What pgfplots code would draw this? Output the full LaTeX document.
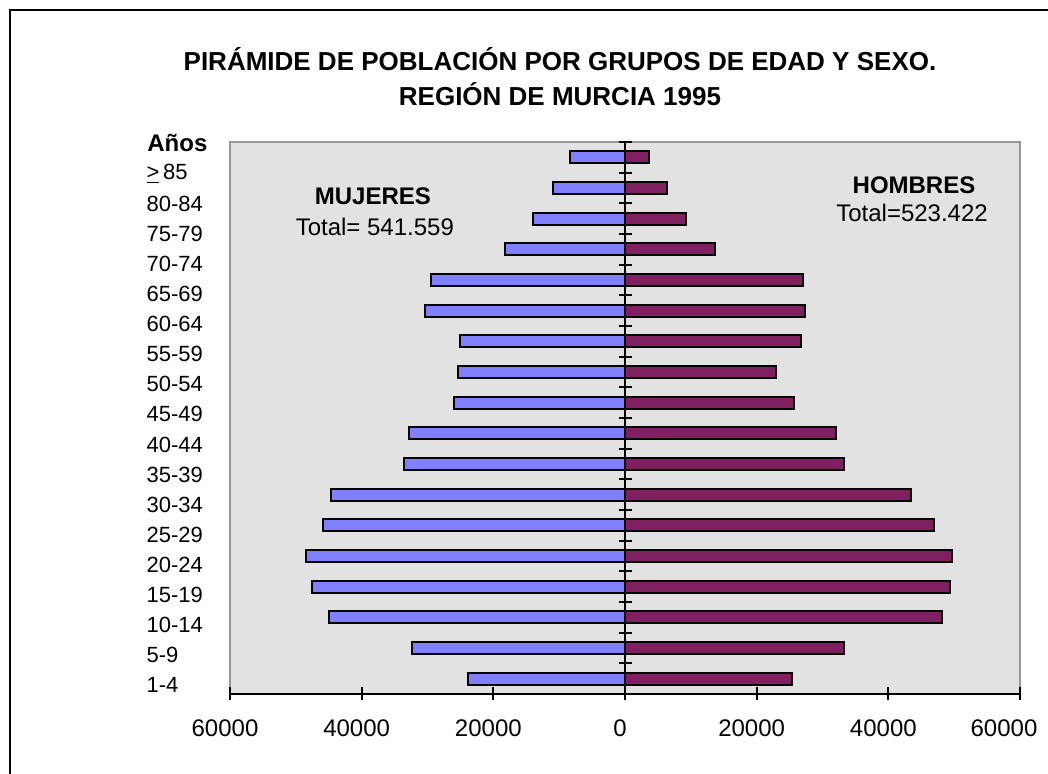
\documentclass[border=0pt]{standalone}
\usepackage{pgfplots}
\pgfplotsset{compat=1.18}
\usepackage{fontspec}
\setmainfont{Liberation Sans}
\definecolor{bgc}{RGB}{226,226,226}
\definecolor{fem}{RGB}{128,128,255}
\definecolor{mal}{RGB}{128,32,96}
\definecolor{boxgray}{RGB}{150,150,150}
\begin{document}
\begin{tikzpicture}
\useasboundingbox (0,0) rectangle (524pt,387pt);
\draw[line width=1pt] (5pt,0) -- (5pt,382pt) -- (524pt,382pt);
\node[font=\fontsize{13}{17.5}\selectfont\bfseries, align=center] at (280pt,348.5pt)
  {PIRÁMIDE DE POBLACIÓN POR GRUPOS DE EDAD Y SEXO.\\REGIÓN DE MURCIA 1995};
\node[font=\fontsize{12}{14}\selectfont\bfseries, anchor=west, inner sep=0pt] at (73.5pt,315.5pt) {Años};
\begin{axis}[
  at={(115pt,40pt)}, anchor=south west,
  scale only axis, width=395pt, height=276pt,
  xmin=-60000, xmax=60000, ymin=-0.5, ymax=17.5,
  axis background/.style={fill=bgc},
  axis line style={draw=boxgray, line width=0.8pt},
  xtick=\empty, scaled x ticks=false,
  ytick={-0.207,0.773,1.754,2.734,3.715,4.695,5.675,6.656,7.636,8.617,9.597,10.577,11.558,12.538,13.519,14.499,15.479,16.46},
  yticklabels={1-4,5-9,10-14,15-19,20-24,25-29,30-34,35-39,40-44,45-49,50-54,55-59,60-64,65-69,70-74,75-79,80-84,{\underline{>}\,85}},
  major tick length=0pt,
  yticklabel style={font=\fontsize{11}{13}\selectfont, anchor=east, text width=41.5pt, align=left, inner sep=0pt},
  xbar, bar width=6pt, bar shift=0pt,
  clip=false,
]
\addplot[fill=fem, draw=black, line width=1pt] coordinates {
(-23800,0) (-32300,1) (-45000,2) (-47500,3) (-48400,4) (-45900,5) (-44700,6) (-33500,7) (-32800,8)
(-25900,9) (-25300,10) (-25000,11) (-30400,12) (-29500,13) (-18200,14) (-14000,15) (-11000,16) (-8300,17)};
\addplot[fill=mal, draw=black, line width=1pt] coordinates {
(25300,0) (33200,1) (48100,2) (49300,3) (49600,4) (46900,5) (43500,6) (33200,7) (32000,8)
(25600,9) (22900,10) (26800,11) (27400,12) (27100,13) (13700,14) (9200,15) (6400,16) (3700,17)};
\node[font=\fontsize{12}{14}\selectfont\bfseries] at (axis cs:-38300,15.74) {MUJERES};
\node[font=\fontsize{12}{14}\selectfont] at (axis cs:-38000,14.73) {Total= 541.559};
\node[font=\fontsize{12}{14}\selectfont\bfseries] at (axis cs:43900,16.1) {HOMBRES};
\node[font=\fontsize{12}{14}\selectfont] at (axis cs:43600,15.18) {Total=523.422};
\end{axis}
\begin{axis}[
  at={(115pt,40pt)}, anchor=south west,
  scale only axis, width=395pt, height=276pt,
  xmin=-60000, xmax=60000, ymin=-0.5, ymax=17.5,
  axis x line=bottom, axis y line=center,
  axis line style={-, black, line width=1pt},
  every inner x axis line/.append style={-},
  every outer x axis line/.append style={-},
  every inner y axis line/.append style={-},
  every outer y axis line/.append style={-},
  hide obscured x ticks=false,
  hide obscured y ticks=false,
  scaled x ticks=false, scaled y ticks=false,
  xtick={-60000,-40000,-20000,0,20000,40000},
  xticklabels={60000,40000,20000,0,20000,40000},
  extra x ticks={60000},
  extra x tick labels={60000},
  extra x tick style={xticklabel style={xshift=-5.5pt}},
  ytick={-0.5,0.5,...,17.5},
  yticklabel style={opacity=0},
  tick align=center,
  major tick length=6.5pt,
  tick style={black, line width=1pt},
  xticklabel style={font=\fontsize{12}{14}\selectfont, yshift=-6pt, xshift=-2.5pt},
]
\end{axis}
\end{tikzpicture}
\end{document}
